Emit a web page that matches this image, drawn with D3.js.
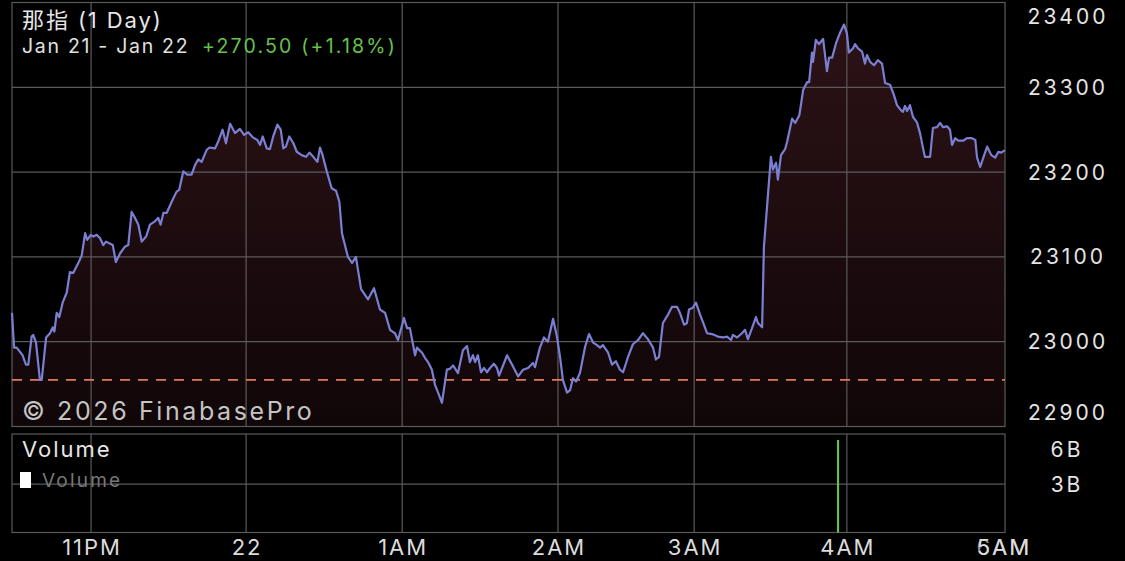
<!DOCTYPE html>
<html><head><meta charset="utf-8">
<script src="https://cdn.jsdelivr.net/npm/d3@7"></script>
<style>html,body{margin:0;padding:0;background:#000;}svg{display:block;}</style>
</head><body><div id="chart"></div>
<script>
// ---- data ----
const title = "那指 (1 Day)";
const dateRange = "Jan 21 - Jan 22";
const changeText = "+270.50 (+1.18%)";
const prevClose = 22955;
// minutes since session start (sample index)
const minute = [0,0.8,1.8,3.1,4.1,5.4,6.3,7.6,8.2,9.3,
10.8,11.5,13.2,14.7,15.8,16.4,17.3,18.3,19.6,21.2,
22.4,23.7,25.7,27,28.3,29.1,30.5,31.5,32.8,34.1,
35.3,36.4,39,40.2,41.8,43.7,45,46.3,47.6,48.9,
50.2,51.9,53.4,55.3,56.6,57.5,58.6,59.9,61.8,63.7,
64.7,66.3,67.8,69.5,70.8,72.1,73.4,75.3,76.4,78.6,
79.8,81.5,82.8,84.4,86.3,88.2,89.8,91.4,93.2,94.9,
96,97,98.6,99.8,101.1,102.7,104,105,106,107.3,
108.9,110.2,112.1,113.8,115.1,116.6,118.2,119.2,120.2,121.8,
123.7,125.4,126.7,127.7,130,131.6,133.1,135.1,137.8,140.1,
142.4,144.4,146.3,148.2,149.4,151.7,152.9,154,156,156.7,
158.7,159.8,161,162.5,163.7,164.9,166.4,168.3,169.5,170.7,
172.6,174.5,176.1,177.2,178.4,179.2,180.3,181.5,182.7,183.8,
185,186.5,187.7,188.5,191.6,193.5,195.9,197.8,199.7,201.6,
202.4,204.3,205.9,207.4,209.4,210.9,212.1,213.2,214.8,216,
217.1,218.3,219.8,221.8,223.3,224.9,226.4,227.6,228.7,230.7,
232.2,233.7,235.3,236.5,238.4,240.3,242.3,244.2,246.1,248.1,
249.2,250.4,251.9,253.9,255.4,257.4,258.5,260.1,261.2,262,
263.5,264.7,266.3,267.4,269,270.9,273.2,275.2,276.7,278.3,
279,280.6,282.5,283.7,284.8,286.4,287.9,288.7,290.3,291,
292.2,293.7,294.5,295.7,296.4,297.6,299.2,300,301.9,303.1,
304.7,306.2,307.7,308.5,309.6,310,311.1,312.3,313.9,315.4,
316.2,317.4,318.9,320.4,322,323.1,323.9,325.5,326.3,327.4,
329,330.1,330.9,332.1,333.6,335.1,336.7,337.9,339.8,341.3,
342.5,344,344.8,345.6,346.4,347.5,348.7,350.2,351.4,352.6,
353.3,355.3,356.4,358,359.2,360.3,361.9,363,363.8,365,
366.2,368.1,369.6,371.5,372.8,373.5,374.7,375.9,377.4,379,
380.5,381.7,382.8,384.3];
const price = [23034,22993,22993,22988,22984,22973,22973,23006,23008,22999,
22955,22955,23005,23010,23017,23012,23034,23029,23046,23058,
23082,23081,23093,23102,23128,23120,23126,23124,23126,23122,
23114,23118,23114,23094,23104,23112,23114,23153,23146,23138,
23118,23124,23138,23142,23146,23138,23152,23152,23165,23177,
23179,23201,23197,23197,23208,23215,23212,23226,23229,23228,
23236,23250,23234,23257,23246,23251,23244,23247,23241,23238,
23232,23242,23228,23227,23242,23256,23250,23228,23230,23242,
23234,23224,23220,23218,23223,23218,23212,23229,23220,23201,
23181,23178,23165,23128,23100,23093,23100,23062,23050,23063,
23038,23034,23014,23010,23002,23028,23016,23016,22984,22993,
22987,22981,22976,22967,22949,22940,22928,22967,22968,22972,
22963,22990,22995,22976,22984,22976,22984,22964,22969,22964,
22969,22974,22969,22960,22984,22973,22959,22967,22969,22975,
22970,22993,23005,23000,23027,23006,22982,22955,22940,22943,
22957,22953,22963,22994,23009,22999,22996,22993,22996,22987,
22973,22977,22967,22964,22982,22997,23002,23010,23003,22993,
22979,22982,23022,23032,23041,23041,23034,23020,23022,23038,
23040,23046,23032,23023,23010,23009,23006,23005,23006,23002,
23008,23005,23010,23014,23003,23016,23029,23022,23017,23112,
23159,23218,23203,23211,23191,23220,23227,23236,23263,23258,
23267,23297,23306,23306,23341,23330,23356,23351,23357,23319,
23335,23335,23352,23364,23374,23364,23341,23346,23351,23346,
23342,23328,23338,23330,23326,23332,23328,23305,23303,23291,
23279,23273,23271,23278,23272,23279,23265,23259,23246,23228,
23218,23218,23252,23253,23258,23253,23254,23250,23232,23240,
23237,23237,23240,23240,23238,23217,23206,23217,23230,23220,
23217,23224,23223,23226];
const priceTicks = [22900, 23000, 23100, 23200, 23300, 23400];
const timeTickMinute = [30.6, 90.6, 151, 211.3, 264, 323.1, 383.5, 383.5];
const timeTickLabels = ["11PM", "22", "1AM", "2AM", "3AM", "4AM", "6AM", "5AM"];
const volMinute = [319.7];
const volValue = [5.75e9];
const volTicks = [3e9, 6e9];
const volTickLabels = ["3B", "6B"];

// ---- layout ----
const W = 1125, H = 561;
const L = 12, R = 1005, T = 2.5, B = 426.5, VT = 434, VB = 532.5;
const FONT = "Inter, 'Noto Sans CJK SC', 'Noto Sans', sans-serif";
const grid = "#5a5a5a";

const svg = d3.select("#chart").append("svg").attr("width", W).attr("height", H)
  .style("background", "#000");

const x = d3.scaleLinear().domain([0, 384.3]).range([L, R]);
const y = d3.scaleLinear().domain([22900, 23400]).range([B, T]);
const yv = d3.scaleLinear().domain([0, 6.12e9]).range([VB, VT]);

const data = minute.map((m, i) => ({m, p: price[i]}));

// gradient
const defs = svg.append("defs");
const g = defs.append("linearGradient").attr("id", "fillg").attr("x1", 0).attr("y1", 0).attr("x2", 0).attr("y2", 1);
g.append("stop").attr("offset", "0%").attr("stop-color", "rgb(44,18,22)");
g.append("stop").attr("offset", "100%").attr("stop-color", "rgb(16,6,8)");
const clip = defs.append("clipPath").attr("id", "clipMain");
clip.append("rect").attr("x", L).attr("y", T).attr("width", R - L).attr("height", B - T);

// area
svg.append("path").datum(data)
  .attr("clip-path", "url(#clipMain)")
  .attr("fill", "url(#fillg)")
  .attr("d", d3.area().x(d => x(d.m)).y0(B).y1(d => y(d.p)));

// grid main
const gx = timeTickMinute.filter(m => x(m) < R - 4);
svg.append("g").selectAll("line").data(priceTicks).join("line")
  .attr("x1", L).attr("x2", R).attr("y1", d => y(d)).attr("y2", d => y(d))
  .attr("stroke", grid).attr("stroke-width", 1.2);
svg.append("g").selectAll("line").data(gx).join("line")
  .attr("x1", d => x(d)).attr("x2", d => x(d)).attr("y1", T).attr("y2", B)
  .attr("stroke", grid).attr("stroke-width", 1.2);
svg.append("rect").attr("x", L).attr("y", T).attr("width", R - L).attr("height", B - T)
  .attr("fill", "none").attr("stroke", grid).attr("stroke-width", 1.2);

// prev close dashed
svg.append("line").attr("x1", L).attr("x2", R).attr("y1", y(prevClose)).attr("y2", y(prevClose))
  .attr("stroke", "#e2785e").attr("stroke-width", 1.6).attr("stroke-dasharray", "10,8");

// line
svg.append("path").datum(data)
  .attr("fill", "none").attr("stroke", "#7b7fd2").attr("stroke-width", 2.2)
  .attr("stroke-linejoin", "round")
  .attr("d", d3.line().x(d => x(d.m)).y(d => y(d.p)));

// watermark
svg.append("text").attr("x", 22).attr("y", 420).text("© 2026 FinabasePro")
  .attr("font-family", FONT).attr("font-size", 25).attr("fill", "#c4c4c4").attr("letter-spacing", 2.6);

// title
svg.append("text").attr("x", 22).attr("y", 28).text(title)
  .attr("font-family", FONT).attr("font-size", 22).attr("fill", "#e6e6e6").attr("letter-spacing", 1.9);
const t2 = svg.append("text").attr("x", 22).attr("y", 53)
  .attr("font-family", FONT).attr("font-size", 19.5);
t2.append("tspan").attr("fill", "#e0e0e0").attr("letter-spacing", 1.7).text(dateRange);
t2.append("tspan").attr("x", 202).attr("fill", "#66c14e").attr("letter-spacing", 2.2).text(changeText);

// right axis labels
svg.append("g").selectAll("text").data(priceTicks).join("text")
  .attr("x", 1068).attr("y", d => Math.max(T + 13.5, Math.min(B - 14.5, y(d))))
  .attr("text-anchor", "middle").attr("dominant-baseline", "central")
  .attr("font-family", FONT).attr("font-size", 21).attr("letter-spacing", 3)
  .attr("fill", "#e4e4e4").text(d => d);

// volume panel
svg.append("g").selectAll("line").data(volTicks.filter(v => yv(v) > VT + 4)).join("line")
  .attr("x1", L).attr("x2", R).attr("y1", d => yv(d)).attr("y2", d => yv(d))
  .attr("stroke", grid).attr("stroke-width", 1.2);
svg.append("g").selectAll("line").data(gx).join("line")
  .attr("x1", d => x(d)).attr("x2", d => x(d)).attr("y1", VT).attr("y2", VB)
  .attr("stroke", grid).attr("stroke-width", 1.2);
svg.append("rect").attr("x", L).attr("y", VT).attr("width", R - L).attr("height", VB - VT)
  .attr("fill", "none").attr("stroke", grid).attr("stroke-width", 1.2);
svg.append("g").selectAll("rect").data(volMinute.map((m, i) => ({m, v: volValue[i]}))).join("rect")
  .attr("x", d => x(d.m) - 1).attr("width", 2)
  .attr("y", d => yv(d.v)).attr("height", d => VB - yv(d.v))
  .attr("fill", "#6cc94e");
svg.append("g").selectAll("text").data(volTicks).join("text")
  .attr("x", 1067).attr("y", (d, i) => Math.max(VT + 15, yv(d)))
  .attr("text-anchor", "middle").attr("dominant-baseline", "central")
  .attr("font-family", FONT).attr("font-size", 21).attr("letter-spacing", 3)
  .attr("fill", "#e4e4e4").text((d, i) => volTickLabels[i]);

svg.append("text").attr("x", 22).attr("y", 457).text("Volume")
  .attr("font-family", FONT).attr("font-size", 22).attr("fill", "#e6e6e6").attr("letter-spacing", 2);
svg.append("rect").attr("x", 20).attr("y", 472).attr("width", 11).attr("height", 16).attr("fill", "#fff");
svg.append("text").attr("x", 42).attr("y", 487).text("Volume")
  .attr("font-family", FONT).attr("font-size", 19).attr("fill", "#777").attr("letter-spacing", 2.2);

// bottom time labels (6AM sits beneath 5AM at the same spot, as in the reference)
svg.append("g").selectAll("text").data(timeTickMinute).join("text")
  .attr("x", d => x(d) + 1).attr("y", 547)
  .attr("text-anchor", "middle").attr("dominant-baseline", "central")
  .attr("font-family", FONT).attr("font-size", 22).attr("letter-spacing", 2)
  .attr("fill", (d, i) => timeTickLabels[i] === "6AM" ? "#8a8a8a" : "#dcdcdc")
  .text((d, i) => timeTickLabels[i]);
</script>
</body></html>
